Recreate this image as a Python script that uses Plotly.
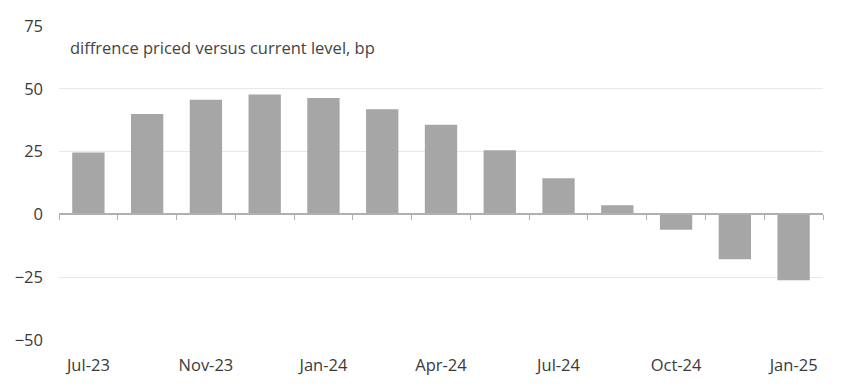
import plotly.graph_objects as go

categories = ["Jul-23", "Sep-23", "Nov-23", "Dec-23", "Jan-24", "Mar-24", "Apr-24",
              "Jun-24", "Jul-24", "Sep-24", "Oct-24", "Dec-24", "Jan-25"]
values = [24.6, 40.0, 45.6, 47.7, 46.3, 41.9, 35.7, 25.5, 14.4, 3.6, -6.1, -17.9, -26.2]
tick_labels = ["Jul-23", "Nov-23", "Jan-24", "Apr-24", "Jul-24", "Oct-24", "Jan-25"]
y_ticks = [-50, -25, 0, 25, 50, 75]
title_text = "diffrence priced versus current level, bp"

font_family = "'Open Sans', 'Noto Sans', sans-serif"

fig = go.Figure()
fig.add_trace(go.Bar(x=categories, y=values, marker=dict(color="#a6a6a6", line=dict(width=0)),
                     xaxis="x", yaxis="y", showlegend=False))
# invisible trace to carry the zero-line axis with boundary ticks
fig.add_trace(go.Bar(x=categories, y=[None] * len(categories), xaxis="x2", yaxis="y",
                     showlegend=False, hoverinfo="skip"))

ymin, ymax = -50, 75
fig.update_layout(
    width=840, height=382,
    margin=dict(l=51, r=25, t=18, b=50),
    paper_bgcolor="white", plot_bgcolor="white",
    bargap=0.45,
    font=dict(family=font_family, color="#333333", size=16.5),
    xaxis=dict(type="category", categoryorder="array", categoryarray=categories,
               tickmode="array", tickvals=tick_labels, ticktext=tick_labels,
               showgrid=False, showline=False, ticks="", zeroline=False,
               automargin=False, ticklabelstandoff=13,
               tickfont=dict(size=16.5, color="#3a3a3a")),
    xaxis2=dict(type="category", categoryorder="array", categoryarray=categories,
                overlaying="x", anchor="free", position=(0 - ymin) / (ymax - ymin),
                showline=True, linecolor="#b0b0b0", linewidth=1.5,
                ticks="outside", tickson="boundaries", ticklen=5, tickcolor="#b0b0b0",
                showticklabels=False, showgrid=False, zeroline=False, automargin=False),
    yaxis=dict(range=[ymin, ymax], tickvals=y_ticks, showgrid=True, gridcolor="#e8e8e8",
               gridwidth=1, zeroline=False, showline=False, ticks="", automargin=False,
               ticklabelstandoff=15, tickfont=dict(size=16.5, color="#3a3a3a")),
    annotations=[dict(text=title_text, xref="paper", yref="paper", x=0.012, y=0.933,
                      xanchor="left", yanchor="middle", showarrow=False,
                      font=dict(size=16.5, color="#444444", family=font_family))],
)

fig.write_html("out.html")
